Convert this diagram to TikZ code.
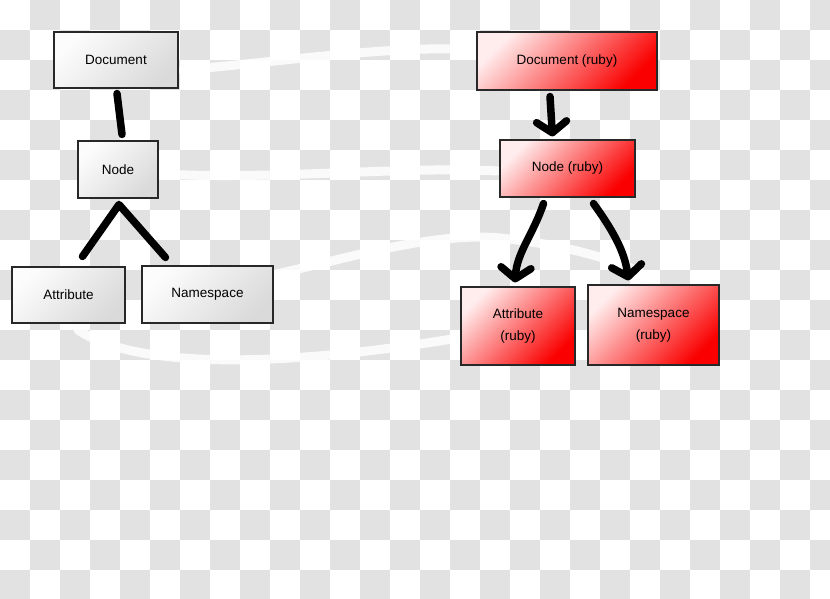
\documentclass[tikz,border=0pt]{standalone}
\usepackage{fontspec}
\setmainfont{Liberation Sans}
\usetikzlibrary{arrows.meta,shadows,calc}
\definecolor{chk}{RGB}{226,226,226}
\definecolor{edge}{RGB}{40,40,40}
\definecolor{pinklt}{RGB}{255,236,236}
\definecolor{redbox}{RGB}{250,0,0}
\definecolor{graylt}{RGB}{252,252,252}
\definecolor{graydk}{RGB}{218,218,218}
\tikzset{
  gbox/.style={draw=edge, line width=1.1pt, top color=graylt, bottom color=graydk, shading angle=45,
    drop shadow={opacity=0.25, shadow xshift=1pt, shadow yshift=-1pt},
    font=\fontsize{13.5}{22}\selectfont, align=center, inner sep=0pt},
  rbox/.style={draw=edge, line width=1.1pt, top color=pinklt, bottom color=redbox, shading angle=45,
    drop shadow={opacity=0.25, shadow xshift=1pt, shadow yshift=-1pt},
    font=\fontsize{13.5}{22}\selectfont, align=center, inner sep=0pt},
  link/.style={line width=7.5pt, line cap=round, line join=round, black},
  arr/.style={link, -{Straight Barb[round, length=11pt, width=30pt]}},
  swoosh/.style={white, line width=9pt, line cap=round, opacity=0.85}
}
\begin{document}
\begin{tikzpicture}[x=1pt,y=-1pt]
\useasboundingbox (0,0) rectangle (830,599);
\begin{scope}
\clip (0,0) rectangle (830,599);
\fill[white] (0,0) rectangle (830,599);
\foreach \i in {0,...,27} {
  \foreach \j in {0,...,19} {
    \pgfmathtruncatemacro\p{mod(\i+\j,2)}
    \ifnum\p=1 \fill[chk] (\i*30,\j*30) rectangle ++(30,30); \fi
  }
}
% white swooshes
\draw[swoosh] (182,70) .. controls (280,62) and (400,44) .. (478,50);
\draw[swoosh] (160,174) .. controls (280,180) and (400,166) .. (498,171);
\draw[swoosh] (272,275) .. controls (350,258) and (430,232) .. (500,238) .. controls (560,244) and (610,258) .. (640,272);
\draw[swoosh] (78,330) .. controls (130,365) and (260,372) .. (470,336);
\end{scope}

% left diagram
\node[gbox, minimum width=124pt, minimum height=56pt] (doc) at (116,60) {Document};
\node[gbox, minimum width=80pt, minimum height=57pt] (nd) at (118,169.5) {Node};
\node[gbox, minimum width=113pt, minimum height=56pt] (att) at (68.5,295) {Attribute};
\node[gbox, minimum width=131pt, minimum height=57pt] (ns) at (207.5,294.5) {Namespace};

\draw[link] ([xshift=1pt,yshift=-5pt]doc.south) -- ([xshift=4pt,yshift=6pt]nd.north);
\coordinate (apex) at ([xshift=1pt,yshift=-6pt]nd.south);
\draw[link] ([xshift=14pt,yshift=10pt]att.north) -- (apex) -- ([xshift=-42pt,yshift=8pt]ns.north);

% right diagram
\node[rbox, minimum width=180pt, minimum height=58pt] (rdoc) at (567,61) {Document (ruby)};
\node[rbox, minimum width=135pt, minimum height=57pt] (rnd) at (567.5,168.5) {Node (ruby)};
\node[rbox, minimum width=114pt, minimum height=78pt] (ratt) at (518,326) {Attribute\\(ruby)};
\node[rbox, minimum width=131pt, minimum height=80pt] (rns) at (653.5,325) {Namespace\\(ruby)};

\draw[arr] ([xshift=-17pt,yshift=-6pt]rdoc.south) -- ([xshift=-15pt,yshift=3pt]rnd.north);
\draw[arr] ([xshift=-24pt,yshift=-6pt]rnd.south) .. controls +(-10,30) and +(2,-30) .. ([xshift=-3pt,yshift=4pt]ratt.north);
\draw[arr] ([xshift=26pt,yshift=-6pt]rnd.south) .. controls +(18,25) and +(-4,-30) .. ([xshift=-25pt,yshift=4pt]rns.north);
\end{tikzpicture}
\end{document}
